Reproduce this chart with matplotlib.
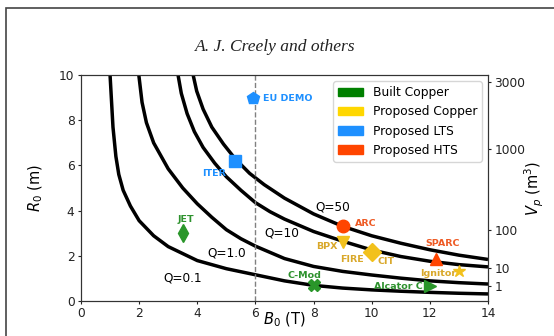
import numpy as np
import matplotlib.pyplot as plt
from matplotlib.patches import Patch, Rectangle

# constant-Q contours, (B0 [T], R0 [m])
q01_b = [1.0, 1.1, 1.2, 1.3, 1.45, 1.7, 2.0, 2.5, 3.0, 4.0, 5.0, 6.0, 7.0, 8.0, 9.0, 10.0, 11.0, 12.0, 13.0, 14.0]
q01_r = [10.0, 7.7, 6.4, 5.6, 4.9, 4.2, 3.55, 2.88, 2.4, 1.78, 1.42, 1.15, 0.88, 0.68, 0.56, 0.48, 0.42, 0.37, 0.33, 0.30]

q1_b = [1.99, 2.1, 2.25, 2.5, 3.0, 3.5, 4.0, 4.5, 5.0, 5.5, 6.0, 7.0, 8.0, 9.0, 10.0, 11.0, 12.0, 13.0, 14.0]
q1_r = [10.0, 8.8, 7.9, 7.0, 5.85, 5.0, 4.3, 3.7, 3.15, 2.75, 2.42, 1.87, 1.52, 1.30, 1.14, 1.0, 0.88, 0.80, 0.74]

q10_b = [3.34, 3.45, 3.65, 3.9, 4.2, 4.6, 5.0, 5.5, 6.0, 6.5, 7.0, 8.0, 9.0, 10.0, 11.0, 12.0, 13.0, 14.0]
q10_r = [10.0, 9.2, 8.3, 7.5, 6.8, 6.1, 5.5, 4.9, 4.35, 3.95, 3.62, 3.07, 2.64, 2.25, 1.96, 1.75, 1.60, 1.50]

q50_b = [3.86, 3.98, 4.2, 4.5, 4.9, 5.3, 5.8, 6.3, 7.0, 8.0, 9.0, 10.0, 11.0, 12.0, 13.0, 14.0]
q50_r = [10.0, 9.3, 8.5, 7.7, 6.95, 6.3, 5.65, 5.15, 4.55, 3.85, 3.3, 2.88, 2.55, 2.26, 2.02, 1.83]

q_names = ['Q=0.1', 'Q=1.0', 'Q=10', 'Q=50']

# machines
devices = ['JET', 'C-Mod', 'Alcator C', 'BPX', 'FIRE', 'CIT', 'Ignitor', 'ITER', 'EU DEMO', 'ARC', 'SPARC']
dev_b0 = [3.5, 8.0, 12.0, 9.0, 10.0, 10.0, 13.0, 5.3, 5.9, 9.0, 12.2]
dev_r0 = [3.0, 0.68, 0.66, 2.6, 2.15, 2.15, 1.32, 6.2, 9.0, 3.3, 1.85]
dev_group = ['Built Copper', 'Built Copper', 'Built Copper',
             'Proposed Copper', 'Proposed Copper', 'Proposed Copper', 'Proposed Copper',
             'Proposed LTS', 'Proposed LTS', 'Proposed HTS', 'Proposed HTS']

groups = ['Built Copper', 'Proposed Copper', 'Proposed LTS', 'Proposed HTS']

# plasma volume axis ticks (m^3)
vp_ticks = [1, 10, 100, 1000, 3000]
kappa, aspect = 1.7, 3.2

marker_col = {'Built Copper': '#2a962a', 'Proposed Copper': '#f2c11c',
              'Proposed LTS': 'dodgerblue', 'Proposed HTS': 'orangered'}
text_col = {'Built Copper': '#2e922e', 'Proposed Copper': '#d9a82a',
            'Proposed LTS': 'dodgerblue', 'Proposed HTS': '#ee5a24'}
legend_col = {'Built Copper': 'green', 'Proposed Copper': 'gold',
              'Proposed LTS': 'dodgerblue', 'Proposed HTS': 'orangered'}
markers = {'JET': 'd', 'C-Mod': 'X', 'Alcator C': '>', 'BPX': 'v', 'FIRE': 'D',
           'CIT': 'P', 'Ignitor': '*', 'ITER': 's', 'EU DEMO': 'p', 'ARC': 'o', 'SPARC': '^'}
# where each name goes (x, y, ha)
label_pos = {'JET': (3.61, 3.62, 'center'), 'C-Mod': (7.7, 1.14, 'center'),
             'Alcator C': (10.9, 0.65, 'center'), 'BPX': (8.45, 2.4, 'center'),
             'FIRE': (9.33, 1.84, 'center'), 'CIT': (10.5, 1.76, 'center'),
             'Ignitor': (12.3, 1.22, 'center'), 'ITER': (4.56, 5.65, 'center'),
             'EU DEMO': (6.25, 8.97, 'left'), 'ARC': (9.8, 3.43, 'center'),
             'SPARC': (12.44, 2.55, 'center')}
q_label_pos = [(3.49, 0.99), (5.01, 2.10), (6.91, 2.99), (8.65, 4.17)]

plt.rcParams['font.size'] = 8.8

fig = plt.figure(figsize=(5.54, 3.36), dpi=100)
ax = fig.add_axes([81 / 554, 1 - 300.7 / 336, 407 / 554, 225.4 / 336])

for b, r in [(q01_b, q01_r), (q1_b, q1_r), (q10_b, q10_r), (q50_b, q50_r)]:
    ax.plot(b, r, color='black', lw=2.5, solid_capstyle='butt')
for name, (x, y) in zip(q_names, q_label_pos):
    ax.text(x, y, name, ha='center', va='center', fontsize=8.7)

ax.axvline(6, color='gray', ls='--', lw=1.0)

for name, b, r, g in zip(devices, dev_b0, dev_r0, dev_group):
    ax.plot(b, r, ls='none', marker=markers[name], ms=9, color=marker_col[g], zorder=4)
    x, y, ha = label_pos[name]
    ax.text(x, y, name, ha=ha, va='center', fontsize=6.8, fontweight='bold', color=text_col[g])

ax.set_xlim(0, 14)
ax.set_ylim(0, 10)
ax.set_xticks(range(0, 15, 2))
ax.set_yticks(range(0, 11, 2))
ax.set_ylabel('$R_0$ (m)', fontsize=10.5)
ax.yaxis.set_label_coords(-0.088, 0.5)
ax.set_xlabel('$B_0$ (T)', fontsize=10.5)
ax.xaxis.set_label_coords(0.5, -0.046)

handles = [Patch(color=legend_col[g], label=g) for g in groups]
ax.legend(handles=handles, loc='upper right', fontsize=8.8)

# right axis: plasma volume V = 2 pi^2 R^3 kappa / A^2
ax2 = ax.twinx()
ax2.set_ylim(ax.get_ylim())
c = 2 * np.pi ** 2 * kappa / aspect ** 2
ax2.set_yticks([(v / c) ** (1 / 3) for v in vp_ticks])
ax2.set_yticklabels([str(v) for v in vp_ticks])
ax2.set_ylabel('$V_p$ (m$^3$)', fontsize=10.5)
ax2.yaxis.set_label_coords(1.086, 0.5)

for a in (ax, ax2):
    a.tick_params(length=2.4, pad=2.2, colors='#222222')
    for s in a.spines.values():
        s.set_color('#333333')

fig.text(0.497, 1 - 47 / 336, 'A. J. Creely and others', ha='center', va='center',
         family='Liberation Serif', style='italic', fontsize=12.6, color='#222222')
fig.add_artist(Rectangle((5.5 / 554, -0.1), 1.2, 1.1 - 8.3 / 336, transform=fig.transFigure,
                         fill=False, edgecolor='#444444', lw=1.2))

fig.savefig('out.png', dpi=100)
